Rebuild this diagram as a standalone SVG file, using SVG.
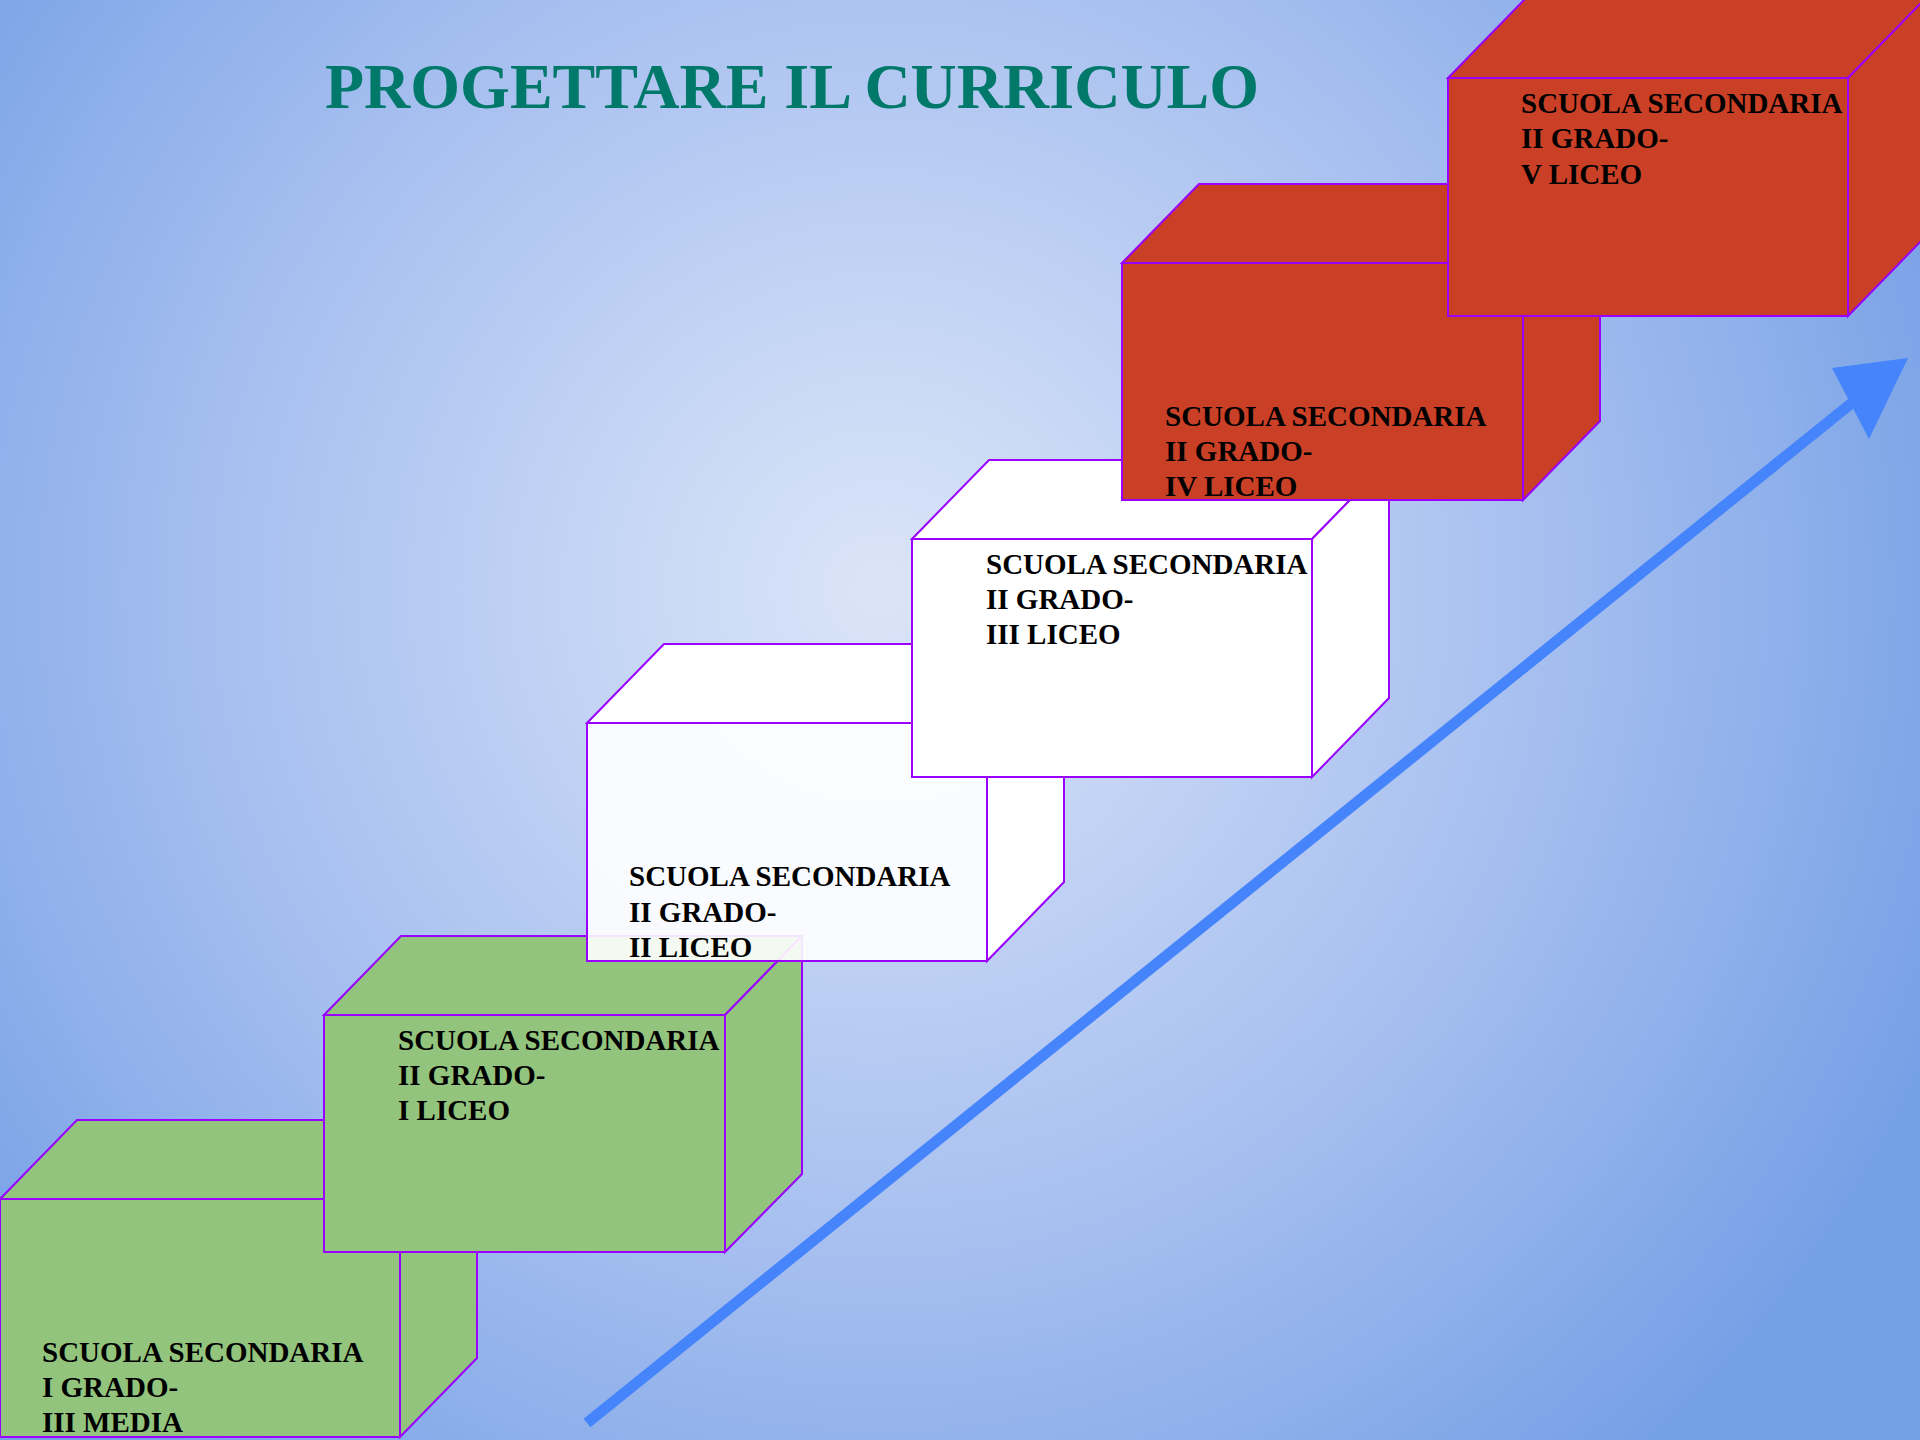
<svg xmlns="http://www.w3.org/2000/svg" width="1920" height="1440" viewBox="0 0 1920 1440">
<defs>
<radialGradient id="bg" gradientUnits="userSpaceOnUse" cx="880" cy="590" r="1150">
<stop offset="0" stop-color="#dbe5f8"/>
<stop offset="0.55" stop-color="#a9c1f0"/>
<stop offset="1" stop-color="#76a0e6"/>
</radialGradient>
<style>
.face{stroke:#9900ff;stroke-width:2;stroke-linejoin:miter}
.g{fill:#93c47d}
.w{fill:#ffffff}
.r{fill:#ca4026}
.lbl{font-family:"Liberation Serif","Times New Roman",serif;font-weight:bold;font-size:29px;fill:#000000}
.title{font-family:"Liberation Serif","Times New Roman",serif;font-weight:bold;font-size:64px;fill:#00796b}
</style>
</defs>
<rect x="0" y="0" width="1920" height="1440" fill="url(#bg)"/>
<text class="title" x="325" y="108">PROGETTARE IL CURRICULO</text>

<g id="connectors">
<line x1="587" y1="1423" x2="1858" y2="398" stroke="#4684fb" stroke-width="11"/>
<polygon points="1832,368 1908,358 1869,439" fill="#4684fb"/>
</g>

<g id="box1">
<polygon class="face g" points="0,1199 77,1120 477,1120 400,1199"/>
<polygon class="face g" points="400,1199 477,1120 477,1358 400,1437"/>
<rect class="face g" x="0" y="1199" width="400" height="238"/>
<text class="lbl" x="42" y="1362">SCUOLA SECONDARIA</text>
<text class="lbl" x="42" y="1397">I GRADO-</text>
<text class="lbl" x="42" y="1432">III MEDIA</text>
</g>

<g id="box2">
<polygon class="face g" points="324,1015 401,936 802,936 725,1015"/>
<polygon class="face g" points="725,1015 802,936 802,1174 725,1252"/>
<rect class="face g" x="324" y="1015" width="401" height="237"/>
<text class="lbl" x="398" y="1050">SCUOLA SECONDARIA</text>
<text class="lbl" x="398" y="1085">II GRADO-</text>
<text class="lbl" x="398" y="1120">I LICEO</text>
</g>

<g id="box3">
<polygon class="face w" points="587,723 664,644 1064,644 987,723"/>
<polygon class="face w" points="987,723 1064,644 1064,882 987,961"/>
<rect class="face" x="587" y="723" width="400" height="238" fill="#ffffff" fill-opacity="0.9"/>
<text class="lbl" x="629" y="886">SCUOLA SECONDARIA</text>
<text class="lbl" x="629" y="922">II GRADO-</text>
<text class="lbl" x="629" y="957">II LICEO</text>
</g>

<g id="box4">
<polygon class="face w" points="912,539 989,460 1389,460 1312,539"/>
<polygon class="face w" points="1312,539 1389,460 1389,698 1312,777"/>
<rect class="face w" x="912" y="539" width="400" height="238"/>
<text class="lbl" x="986" y="574">SCUOLA SECONDARIA</text>
<text class="lbl" x="986" y="609">II GRADO-</text>
<text class="lbl" x="986" y="644">III LICEO</text>
</g>

<g id="box5">
<polygon class="face r" points="1122,263 1199,184 1600,184 1523,263"/>
<polygon class="face r" points="1523,263 1600,184 1600,421 1523,500"/>
<rect class="face r" x="1122" y="263" width="401" height="237"/>
<text class="lbl" x="1165" y="426">SCUOLA SECONDARIA</text>
<text class="lbl" x="1165" y="461">II GRADO-</text>
<text class="lbl" x="1165" y="496">IV LICEO</text>
</g>

<g id="box6">
<polygon class="face r" points="1448,78 1525,-1 1925,-1 1848,78"/>
<polygon class="face r" points="1848,78 1925,-1 1925,237 1848,316"/>
<rect class="face r" x="1448" y="78" width="400" height="238"/>
<text class="lbl" x="1521" y="113">SCUOLA SECONDARIA</text>
<text class="lbl" x="1521" y="148">II GRADO-</text>
<text class="lbl" x="1521" y="184">V LICEO</text>
</g>
</svg>
